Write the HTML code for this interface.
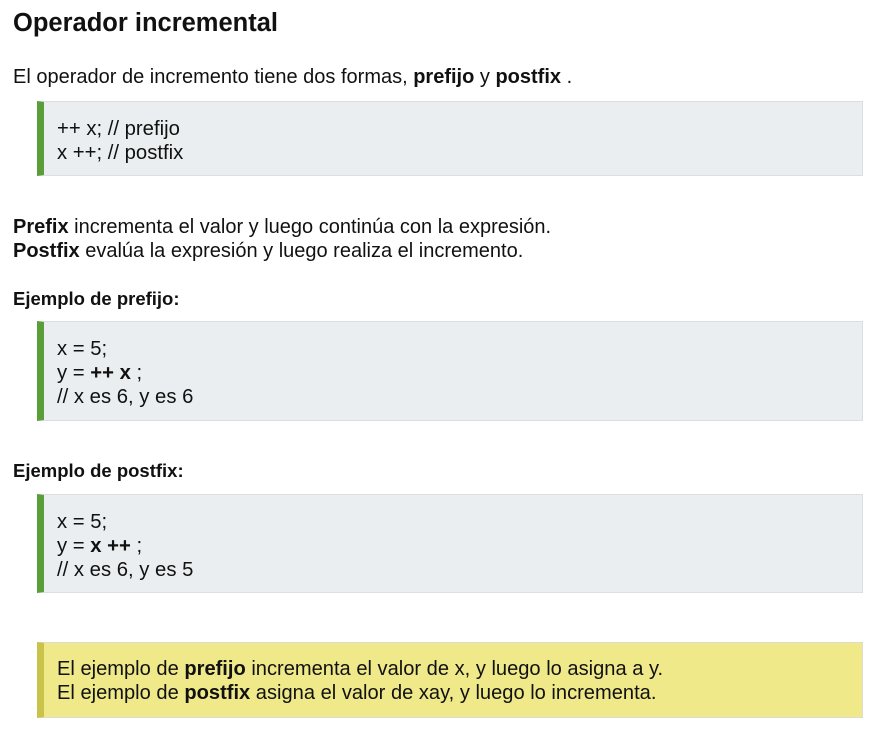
<!DOCTYPE html>
<html><head><meta charset="utf-8"><style>
body{margin:0;width:885px;height:729px;background:#fff;font-family:"Liberation Sans",Arial,sans-serif;color:#111;position:relative;overflow:hidden}
.t{position:absolute;left:13px;white-space:nowrap;font-size:20px;line-height:24px}
h1{position:absolute;left:13px;top:6px;margin:0;font-size:25.5px;line-height:34px;font-weight:bold}
.box{position:absolute;left:37px;width:818px;background:#ebeef0;border:1px solid #dcdfe1;border-left:7px solid #5a9e3a;box-sizing:content-box}
.box div{position:absolute;left:13px;font-size:20.3px;line-height:24px;white-space:nowrap}
.y{position:absolute;left:37px;top:642px;width:818px;height:74px;background:#efe98a;border:1px solid #dcdcd0;border-left:7px solid #c9c34a}
.y div{position:absolute;left:13px;top:14px;font-size:20.1px;line-height:24px;white-space:nowrap}
</style></head><body>
<h1>Operador incremental</h1>
<div class="t" style="top:65px">El operador de incremento tiene dos formas, <b>prefijo</b> y <b>postfix</b> .</div>
<div class="box" style="top:101px;height:73px"><div style="top:15px">++ x; // prefijo<br>x ++; // postfix</div></div>
<div class="t" style="top:215px"><b>Prefix</b> incrementa el valor y luego continúa con la expresión.<br><b>Postfix</b> evalúa la expresión y luego realiza el incremento.</div>
<div class="t" style="top:287px;font-size:18.5px"><b>Ejemplo de prefijo:</b></div>
<div class="box" style="top:321px;height:98px"><div style="top:15px">x = 5;<br>y = <b>++ x</b> ;<br>// x es 6, y es 6</div></div>
<div class="t" style="top:459px;font-size:18.5px"><b>Ejemplo de postfix:</b></div>
<div class="box" style="top:494px;height:97px"><div style="top:15px">x = 5;<br>y = <b>x ++</b> ;<br>// x es 6, y es 5</div></div>
<div class="y"><div>El ejemplo de <b>prefijo</b> incrementa el valor de x, y luego lo asigna a y.<br>El ejemplo de <b>postfix</b> asigna el valor de xay, y luego lo incrementa.</div></div>
</body></html>
